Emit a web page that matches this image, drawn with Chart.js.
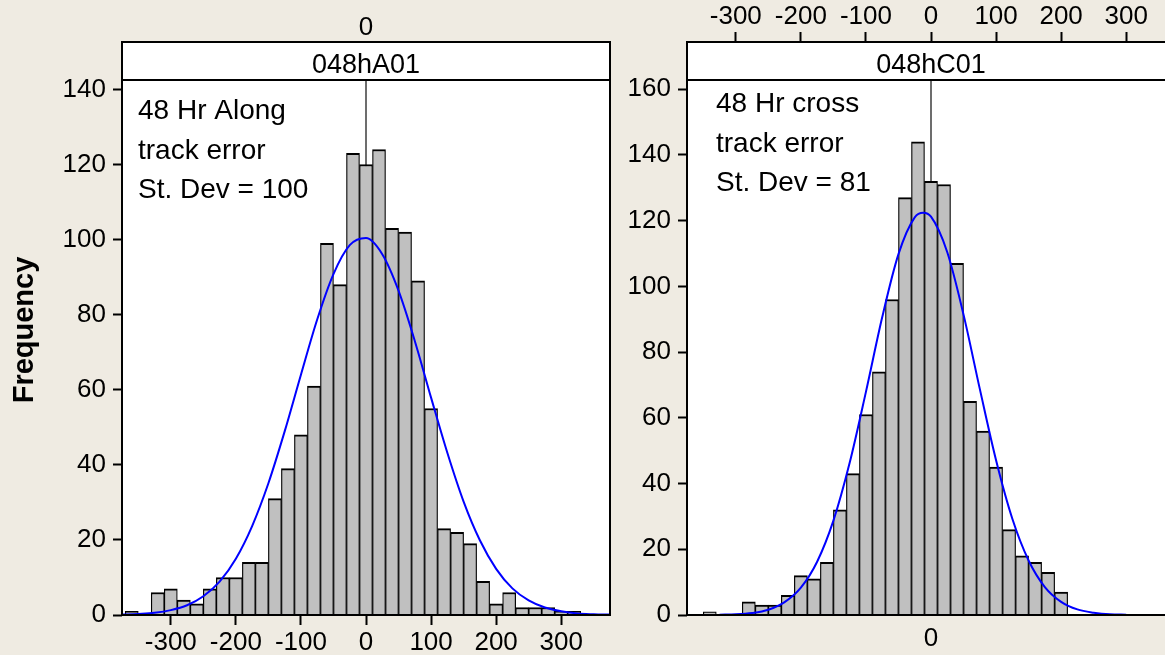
<!DOCTYPE html>
<html>
<head>
<meta charset="utf-8">
<script src="https://cdn.jsdelivr.net/npm/chart.js@4.4.1/dist/chart.umd.min.js"></script>
<style>
body { margin:0; background:#EFEBE2; overflow:hidden; }
#wrap { position:relative; width:1165px; height:655px; overflow:hidden; }
canvas { position:absolute; top:0; }
#along { left:0; }
#cross { left:620px; }
</style>
</head>
<body>
<div id="wrap">
<canvas id="along" width="640" height="655"></canvas>
<canvas id="cross" width="565" height="655"></canvas>
</div>
<script>
// classes of width 20 (centre of each class)
var alongBins = [-360, -340, -320, -300, -280, -260, -240, -220, -200, -180, -160, -140, -120, -100, -80, -60, -40, -20,
                 0, 20, 40, 60, 80, 100, 120, 140, 160, 180, 200, 220, 240, 260, 280, 300, 320];
var alongCounts = [1, 0, 6, 7, 4, 3, 7, 10, 10, 14, 14, 31, 39, 48, 61, 99, 88, 123,
                   120, 124, 103, 102, 89, 55, 23, 22, 19, 9, 3, 6, 2, 2, 2, 1, 1];

var crossBins = [-340, -320, -300, -280, -260, -240, -220, -200, -180, -160, -140, -120, -100, -80, -60, -40, -20,
                 0, 20, 40, 60, 80, 100, 120, 140, 160, 180, 200];
var crossCounts = [1, 0, 0, 4, 3, 3, 6, 12, 11, 16, 32, 43, 61, 74, 96, 127, 144,
                   132, 131, 107, 65, 56, 45, 26, 18, 16, 13, 7];

// fitted normal curves (blue)
var alongFitX = [-375, -350, -325, -300, -275, -250, -225, -200, -175, -150, -125, -100, -75, -50, -25,
                 0, 25, 50, 75, 100, 125, 150, 175, 200, 225, 250, 275, 300, 325, 350, 375];
var alongFitY = [0.1, 0.3, 0.6, 1.3, 2.6, 5.0, 8.9, 15.0, 23.7, 35.1, 48.9, 64.0, 78.7, 90.8, 98.5,
                 100.4, 96.1, 86.4, 73.0, 57.9, 43.2, 30.2, 19.9, 12.3, 7.1, 3.9, 2.0, 1.0, 0.4, 0.2, 0.1];

var crossFitX = [-325, -300, -275, -250, -225, -200, -175, -150, -125, -100, -75, -50, -25, -12,
                 0, 25, 50, 75, 100, 125, 150, 175, 200, 225, 250, 275, 300];
var crossFitY = [0.1, 0.2, 0.6, 1.6, 3.9, 8.3, 16.2, 28.7, 46.3, 67.9, 90.6, 109.8, 121.0, 122.4,
                 121.2, 110.4, 91.4, 68.8, 47.1, 29.3, 16.6, 8.5, 4.0, 1.7, 0.7, 0.2, 0.1];

var xTicks = [-300, -200, -100, 0, 100, 200, 300];
var zeroTick = [0];
var alongYTicks = [0, 20, 40, 60, 80, 100, 120, 140];
var crossYTicks = [0, 20, 40, 60, 80, 100, 120, 140, 160];

var alongNotes = ['48 Hr Along', 'track error', 'St. Dev = 100'];
var crossNotes = ['48 Hr cross', 'track error', 'St. Dev = 81'];

Chart.defaults.font.family = '"Liberation Sans", Arial, sans-serif';
Chart.defaults.font.size = 26;
Chart.defaults.color = '#000';

function toPoints(xs, ys) {
    var pts = [];
    for (var i = 0; i < xs.length; i++) pts.push({ x: xs[i], y: ys[i] });
    return pts;
}

function setTicks(list) {
    return function (scale) {
        scale.ticks = list.map(function (v) { return { value: v }; });
    };
}

// white plot area, header strip, frame and the text notes
var panelDecor = {
    id: 'panelDecor',
    beforeDatasetsDraw: function (chart) {
        var a = chart.chartArea, ctx = chart.ctx;
        ctx.save();
        ctx.fillStyle = '#fff';
        ctx.fillRect(a.left, a.top, a.right - a.left, a.bottom - a.top);
        ctx.restore();
    },
    afterDraw: function (chart) {
        var o = chart.options.plugins.panelDecor;
        var a = chart.chartArea, ctx = chart.ctx;
        var top = a.top - o.headerHeight;
        ctx.save();
        ctx.fillStyle = '#fff';
        ctx.fillRect(a.left, top, a.right - a.left, o.headerHeight);
        ctx.strokeStyle = '#000';
        ctx.lineWidth = 2;
        ctx.strokeRect(a.left, top, a.right - a.left, a.bottom - top);
        ctx.beginPath();
        ctx.moveTo(a.left, a.top);
        ctx.lineTo(a.right, a.top);
        ctx.stroke();

        ctx.fillStyle = '#000';
        ctx.font = '27px "Liberation Sans", Arial, sans-serif';
        ctx.textAlign = 'center';
        ctx.textBaseline = 'alphabetic';
        ctx.fillText(o.header, (a.left + a.right) / 2, top + 30.5);

        ctx.textAlign = 'left';
        ctx.font = '28px "Liberation Sans", Arial, sans-serif';
        for (var i = 0; i < o.notes.length; i++) {
            ctx.fillText(o.notes[i], a.left + o.noteX, a.top + o.noteY + i * 39.5);
        }

        if (o.yTitle) {
            ctx.translate(25, 330);
            ctx.rotate(-Math.PI / 2);
            ctx.textAlign = 'center';
            ctx.textBaseline = 'middle';
            ctx.font = 'bold 29px "Liberation Sans", Arial, sans-serif';
            ctx.fillText(o.yTitle, 0, 0);
        }
        ctx.restore();
    }
};

function makePanel(id, p) {
    var ctx = document.getElementById(id).getContext('2d');
    return new Chart(ctx, {
        type: 'bar',
        data: {
            datasets: [{
                type: 'line',
                data: [{ x: 0, y: 0 }, { x: 0, y: p.yMax }],
                borderColor: '#3c3c3c',
                borderWidth: 1.5,
                pointRadius: 0,
                order: 3
            }, {
                type: 'bar',
                data: toPoints(p.bins, p.counts),
                backgroundColor: '#C0C0C0',
                borderColor: '#000',
                borderWidth: { top: 2, left: 1.2, right: 1.2, bottom: 0 },
                borderSkipped: false,
                barPercentage: 1,
                categoryPercentage: 1,
                order: 2
            }, {
                type: 'line',
                data: toPoints(p.fitX, p.fitY),
                borderColor: '#0000FF',
                borderWidth: 2,
                pointRadius: 0,
                cubicInterpolationMode: 'monotone',
                order: 1
            }]
        },
        options: {
            responsive: false,
            animation: false,
            devicePixelRatio: 1,
            layout: { padding: { left: 0, right: p.padRight, top: 0, bottom: 0 } },
            plugins: {
                legend: { display: false },
                tooltip: { enabled: false },
                panelDecor: {
                    header: p.header,
                    headerHeight: 38,
                    notes: p.notes,
                    noteX: p.noteX,
                    noteY: p.noteY,
                    yTitle: p.yTitle
                }
            },
            scales: {
                x: {
                    type: 'linear',
                    position: 'bottom',
                    min: -375,
                    max: 375,
                    offset: false,
                    afterBuildTicks: setTicks(p.bottomTicks),
                    afterFit: function (s) { s.height = 40; },
                    grid: { offset: false, drawOnChartArea: false, drawTicks: p.bottomMarks, tickLength: 10, tickWidth: 2, tickColor: '#000' },
                    border: { display: false },
                    ticks: { padding: p.bottomMarks ? 2 : 8, autoSkip: false, maxRotation: 0 }
                },
                x2: {
                    type: 'linear',
                    position: 'top',
                    min: -375,
                    max: 375,
                    offset: false,
                    afterBuildTicks: setTicks(p.topTicks),
                    afterFit: function (s) { s.height = 80; },
                    grid: { offset: false, drawOnChartArea: false, drawTicks: p.topMarks, tickLength: 48, tickWidth: 2, tickColor: '#000' },
                    border: { display: false },
                    ticks: { padding: p.topMarks ? 0 : 37, autoSkip: false, maxRotation: 0 }
                },
                y: {
                    min: 0,
                    max: p.yMax,
                    afterBuildTicks: setTicks(p.yTicks),
                    afterFit: function (s) { s.width = p.yWidth; },
                    grid: { drawOnChartArea: false, tickLength: 9, tickWidth: 2, tickColor: '#000' },
                    border: { display: false },
                    ticks: { padding: 7, autoSkip: false }
                }
            }
        },
        plugins: [panelDecor]
    });
}

makePanel('along', {
    bins: alongBins, counts: alongCounts, fitX: alongFitX, fitY: alongFitY,
    yMax: 142.5, yTicks: alongYTicks, yWidth: 122, padRight: 30,
    bottomTicks: xTicks, bottomMarks: true, topTicks: zeroTick, topMarks: false,
    header: '048hA01', notes: alongNotes, noteX: 16, noteY: 39, yTitle: 'Frequency'
});

makePanel('cross', {
    bins: crossBins, counts: crossCounts, fitX: crossFitX, fitY: crossFitY,
    yMax: 162.8, yTicks: crossYTicks, yWidth: 67, padRight: 10,
    bottomTicks: zeroTick, bottomMarks: false, topTicks: xTicks, topMarks: true,
    header: '048hC01', notes: crossNotes, noteX: 29, noteY: 32, yTitle: null
});
</script>
</body>
</html>
